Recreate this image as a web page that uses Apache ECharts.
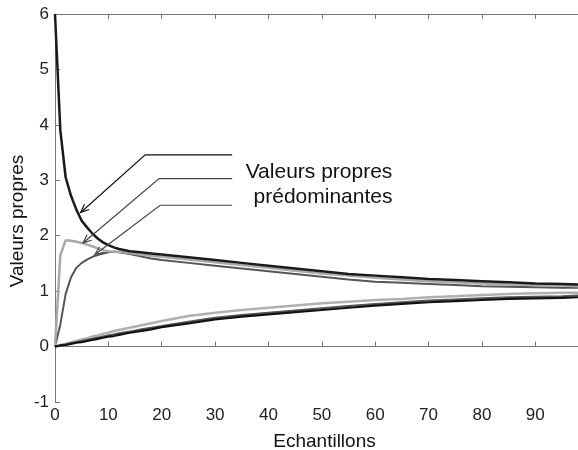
<!DOCTYPE html>
<html>
<head>
<meta charset="utf-8">
<script src="https://cdn.jsdelivr.net/npm/echarts@6/dist/echarts.min.js"></script>
<style>
  html, body { margin: 0; padding: 0; background: #fff; }
  #main { width: 578px; height: 450px; }
</style>
</head>
<body>
<div id="main"></div>
<script>
// abscisses des echantillons
var echantillons = [0, 1, 2, 3, 4, 5, 6, 7, 8, 9, 10, 11, 12, 14, 16, 18, 20, 25, 30, 35, 40, 45, 50, 55, 60, 65, 70, 75, 80, 85, 90, 95, 98];

// valeurs propres predominantes (haut)
var vpNoir = [6.0, 3.9, 3.05, 2.72, 2.47, 2.27, 2.15, 2.04, 1.95, 1.88, 1.83, 1.79, 1.76, 1.72, 1.70, 1.68, 1.66, 1.61, 1.56, 1.51, 1.46, 1.41, 1.36, 1.31, 1.28, 1.25, 1.22, 1.20, 1.18, 1.16, 1.14, 1.13, 1.12];
var vpClair = [0, 1.65, 1.92, 1.91, 1.89, 1.87, 1.84, 1.81, 1.77, 1.74, 1.72, 1.71, 1.71, 1.69, 1.66, 1.64, 1.62, 1.57, 1.52, 1.47, 1.42, 1.37, 1.32, 1.28, 1.24, 1.21, 1.18, 1.16, 1.14, 1.12, 1.11, 1.10, 1.09];
var vpFonce = [0, 0.40, 0.95, 1.25, 1.42, 1.51, 1.57, 1.62, 1.65, 1.68, 1.70, 1.71, 1.70, 1.67, 1.63, 1.59, 1.56, 1.51, 1.46, 1.41, 1.36, 1.31, 1.26, 1.21, 1.17, 1.15, 1.13, 1.11, 1.09, 1.08, 1.07, 1.06, 1.06];

// autres valeurs propres (bas)
var basClair = [0, 0.03, 0.05, 0.08, 0.10, 0.13, 0.15, 0.18, 0.20, 0.23, 0.25, 0.28, 0.30, 0.34, 0.38, 0.42, 0.46, 0.55, 0.61, 0.66, 0.70, 0.74, 0.78, 0.81, 0.84, 0.86, 0.89, 0.91, 0.93, 0.95, 0.96, 0.97, 0.97];
var basFonce = [0, 0.02, 0.04, 0.06, 0.08, 0.10, 0.12, 0.14, 0.16, 0.18, 0.20, 0.22, 0.24, 0.27, 0.31, 0.34, 0.37, 0.45, 0.52, 0.57, 0.61, 0.65, 0.69, 0.73, 0.77, 0.80, 0.83, 0.85, 0.87, 0.89, 0.90, 0.91, 0.92];
var basNoir = [0, 0.02, 0.03, 0.05, 0.07, 0.08, 0.10, 0.12, 0.14, 0.16, 0.18, 0.19, 0.21, 0.25, 0.28, 0.31, 0.35, 0.42, 0.49, 0.54, 0.58, 0.62, 0.66, 0.70, 0.74, 0.77, 0.80, 0.82, 0.84, 0.86, 0.87, 0.88, 0.89];

// fleches d'annotation (en coordonnees du graphe)
var fleche1 = [[33.2, 3.46], [16.9, 3.46], [4.8, 2.42]];
var fleche2 = [[33.2, 3.03], [19.5, 3.03], [5.25, 1.87]];
var fleche3 = [[33.2, 2.55], [19.7, 2.55], [7.5, 1.66]];

function paires(ys) {
    return echantillons.map(function (x, i) { return [x, ys[i]]; });
}

function courbe(nom, ys, couleur, largeur) {
    return {
        name: nom,
        type: 'line',
        data: paires(ys),
        showSymbol: false,
        symbol: 'none',
        silent: true,
        lineStyle: { color: couleur, width: largeur },
        z: 3
    };
}

var chart = echarts.init(document.getElementById('main'));

var police = 'Liberation Sans, Arial, sans-serif';

var option = {
    animation: false,
    backgroundColor: '#fff',
    grid: { left: 55, right: 0, top: 14, bottom: 48, containLabel: false, outerBoundsMode: 'none' },
    xAxis: [{
        type: 'value',
        min: 0,
        max: 98,
        interval: 10,
        name: 'Echantillons',
        nameLocation: 'middle',
        nameGap: 30,
        nameTextStyle: { fontFamily: police, fontSize: 19, color: '#111', padding: [0, 0, 0, 16] },
        axisLine: { show: true, lineStyle: { color: '#777', width: 1 } },
        axisTick: { show: true, inside: true, length: 5, lineStyle: { color: '#777' } },
        axisLabel: {
            fontFamily: police, fontSize: 17, color: '#222', margin: 5,
            showMaxLabel: false,
            formatter: function (v) { return v % 10 === 0 ? String(v) : ''; }
        },
        splitLine: { show: false }
    }, {
        type: 'value',
        position: 'top',
        min: 0,
        max: 98,
        interval: 10,
        axisLine: { show: true, onZero: false, lineStyle: { color: '#777', width: 1 } },
        axisTick: { show: true, inside: true, length: 5, lineStyle: { color: '#777' } },
        axisLabel: { show: false },
        splitLine: { show: false }
    }],
    yAxis: {
        type: 'value',
        min: -1,
        max: 6,
        interval: 1,
        name: 'Valeurs propres',
        nameLocation: 'middle',
        nameGap: 28,
        nameMoveOverlap: false,
        nameTextStyle: { fontFamily: police, fontSize: 19, color: '#111', padding: [0, 26, 0, 0] },
        axisLine: { show: true, onZero: false, lineStyle: { color: '#777', width: 1 } },
        axisTick: { show: true, inside: true, length: 5, lineStyle: { color: '#777' } },
        axisLabel: { fontFamily: police, fontSize: 17, color: '#222', margin: 6 },
        splitLine: { show: false }
    },
    series: [
        courbe('vp3', vpFonce, '#555', 2),
        courbe('vp2', vpClair, '#a8a8a8', 2.5),
        courbe('vp1', vpNoir, '#1a1a1a', 2.5),
        courbe('b1', basClair, '#b0b0b0', 2.5),
        courbe('b2', basFonce, '#555', 2),
        courbe('b3', basNoir, '#111', 2.2)
    ]
};

chart.setOption(option);

// dessin des fleches a partir des coordonnees du graphe
function fleche(points, couleur) {
    var px = points.map(function (p) { return chart.convertToPixel({ gridIndex: 0 }, p); });
    var n = px.length;
    var tip = px[n - 1], prev = px[n - 2];
    var ang = Math.atan2(prev[1] - tip[1], prev[0] - tip[0]);
    var L = 9, a = 0.4;
    var tete = [
        [tip[0] + L * Math.cos(ang + a), tip[1] + L * Math.sin(ang + a)],
        tip,
        [tip[0] + L * Math.cos(ang - a), tip[1] + L * Math.sin(ang - a)]
    ];
    return [{
        type: 'polyline', z: 10,
        shape: { points: px },
        style: { stroke: couleur, lineWidth: 1.2, fill: null }
    }, {
        type: 'polyline', z: 10,
        shape: { points: tete },
        style: { stroke: couleur, lineWidth: 1.2, fill: null }
    }];
}

var elements = [].concat(
    fleche(fleche1, '#111'),
    fleche(fleche2, '#444'),
    fleche(fleche3, '#444'),
    [{
        type: 'text', x: 319, y: 172, z: 10,
        style: { text: 'Valeurs propres', font: '21px ' + police, fill: '#111', align: 'center', verticalAlign: 'middle' }
    }, {
        type: 'text', x: 323, y: 197, z: 10,
        style: { text: 'prédominantes', font: '21px ' + police, fill: '#111', align: 'center', verticalAlign: 'middle' }
    }]
);

chart.setOption({ graphic: elements });
</script>
</body>
</html>
